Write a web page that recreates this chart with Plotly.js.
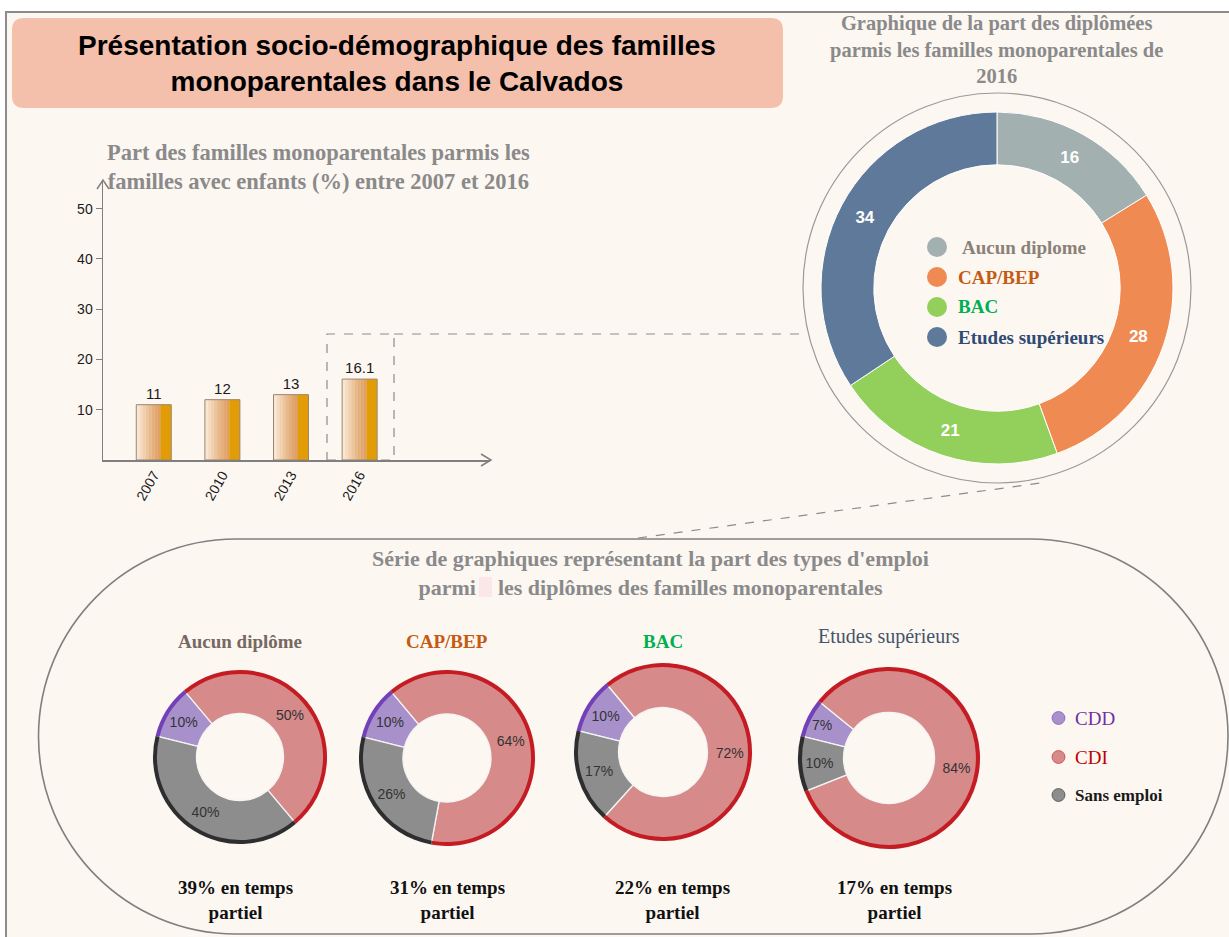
<!DOCTYPE html>
<html><head><meta charset="utf-8">
<script src="https://cdn.plot.ly/plotly-3.0.1.min.js"></script>
<style>html,body{margin:0;padding:0;background:#fff}#chart{width:1229px;height:937px}</style>
</head><body><div id="chart"></div>
<script>
// ---------------- DATA ----------------
const years = ['2007', '2010', '2013', '2016'];
const shareMono = [11, 12, 13, 16.1];

const diplomaLabels = ['Aucun diplome', 'CAP/BEP', 'BAC', 'Etudes supérieurs'];
const diplomaShares = [16, 28, 21, 34];

const employmentTypes = ['CDD', 'CDI', 'Sans emploi'];
const empAucun = [10, 50, 40];
const empCap = [10, 64, 26];
const empBac = [10, 72, 17];
const empSup = [7, 84, 10];
const smallTitles = ['Aucun diplôme', 'CAP/BEP', 'BAC', 'Etudes supérieurs'];
const partTime = [39, 31, 22, 17];

// ---------------- LAYOUT HELPERS ----------------
const W = 1229, H = 937;
const fx = x => x / W;
const fy = y => 1 - y / H;
const pt = (x, y) => fx(x).toFixed(5) + ',' + fy(y).toFixed(5);
const SERIF = 'Liberation Serif';
const SANS = 'Liberation Sans';

const traces = [];
const shapes = [];
const annotations = [];

// page frame
shapes.push({type: 'rect', xref: 'paper', yref: 'paper', layer: 'below',
  x0: fx(6), x1: fx(1240), y0: fy(12), y1: fy(950),
  fillcolor: '#fdf7f2', line: {color: '#8c8c8c', width: 2}});

// title box (rounded)
(function () {
  const x0 = 12, x1 = 783, y0 = 18, y1 = 108, r = 12;
  const d = 'M ' + pt(x0 + r, y0) + ' L ' + pt(x1 - r, y0) + ' Q ' + pt(x1, y0) + ' ' + pt(x1, y0 + r) +
    ' L ' + pt(x1, y1 - r) + ' Q ' + pt(x1, y1) + ' ' + pt(x1 - r, y1) +
    ' L ' + pt(x0 + r, y1) + ' Q ' + pt(x0, y1) + ' ' + pt(x0, y1 - r) +
    ' L ' + pt(x0, y0 + r) + ' Q ' + pt(x0, y0) + ' ' + pt(x0 + r, y0) + ' Z';
  shapes.push({type: 'path', xref: 'paper', yref: 'paper', layer: 'below', path: d,
    fillcolor: '#f4c0ac', line: {width: 0}});
})();
annotations.push({xref: 'paper', yref: 'paper', x: fx(397), y: fy(64), xanchor: 'center', yanchor: 'middle',
  showarrow: false, text: 'Présentation socio-démographique des familles<br>monoparentales dans le Calvados',
  font: {family: SANS, size: 28, weight: 'bold', color: '#000'}});

// stadium around bottom section
(function () {
  const top = 539, bot = 934, cy = (top + bot) / 2, r = (bot - top) / 2;
  const lx = 38.5 + r, rx = 1228 - r, k = 0.5523 * r;
  const d = 'M ' + pt(lx, top) + ' L ' + pt(rx, top) +
    ' C ' + pt(rx + k, top) + ' ' + pt(rx + r, cy - k) + ' ' + pt(rx + r, cy) +
    ' C ' + pt(rx + r, cy + k) + ' ' + pt(rx + k, bot) + ' ' + pt(rx, bot) +
    ' L ' + pt(lx, bot) +
    ' C ' + pt(lx - k, bot) + ' ' + pt(lx - r, cy + k) + ' ' + pt(lx - r, cy) +
    ' C ' + pt(lx - r, cy - k) + ' ' + pt(lx - k, top) + ' ' + pt(lx, top) + ' Z';
  shapes.push({type: 'path', xref: 'paper', yref: 'paper', layer: 'below', path: d,
    fillcolor: 'rgba(0,0,0,0)', line: {color: '#808080', width: 1.6}});
})();

// dashed connectors
const dashLine = {color: '#8c8c8c', width: 1.2, dash: 'dash'};
shapes.push({type: 'rect', xref: 'paper', yref: 'paper', layer: 'below',
  x0: fx(327), x1: fx(394), y0: fy(460), y1: fy(334), line: dashLine});
shapes.push({type: 'line', xref: 'paper', yref: 'paper', layer: 'below',
  x0: fx(394), x1: fx(805), y0: fy(334), y1: fy(334), line: dashLine});
shapes.push({type: 'line', xref: 'paper', yref: 'paper', layer: 'below',
  x0: fx(638), x1: fx(1048), y0: fy(538), y1: fy(482), line: dashLine});

// axis arrowheads
shapes.push({type: 'path', xref: 'paper', yref: 'paper', path: 'M ' + pt(97, 189) + ' L ' + pt(103, 180) + ' L ' + pt(109, 189),
  line: {color: '#7f7f7f', width: 1.5}});
shapes.push({type: 'path', xref: 'paper', yref: 'paper', path: 'M ' + pt(481, 454) + ' L ' + pt(491, 460) + ' L ' + pt(481, 466),
  line: {color: '#7f7f7f', width: 1.5}});

// ---------------- BAR CHART ----------------
const barW = 0.51, half = barW / 2;
const gradCols = ['#f8e6d3', '#f4dbc1', '#f0d0ae', '#ecc59c', '#e8ba8b', '#e5b07c', '#e2a76f', '#dfa065'];
const gradW = 0.355 / gradCols.length;
let off = -half;
gradCols.forEach(c => {
  traces.push({type: 'bar', x: years, y: shareMono, width: gradW + 0.004, offset: off,
    marker: {color: c, line: {width: 0}}, hoverinfo: 'skip', showlegend: false, xaxis: 'x', yaxis: 'y'});
  off += gradW;
});
traces.push({type: 'bar', x: years, y: shareMono, width: half - off, offset: off,
  marker: {color: '#e29c05', line: {width: 0}}, hoverinfo: 'skip', showlegend: false, xaxis: 'x', yaxis: 'y'});
traces.push({type: 'bar', x: years, y: shareMono, width: barW, offset: -half,
  marker: {color: 'rgba(0,0,0,0)', line: {color: '#9a8670', width: 1}},
  text: shareMono.map(String), textposition: 'outside', cliponaxis: false,
  textfont: {family: SANS, size: 15, color: '#1a1a1a'},
  showlegend: false, xaxis: 'x', yaxis: 'y'});

annotations.push({xref: 'paper', yref: 'paper', x: fx(318), y: fy(167), xanchor: 'center', yanchor: 'middle',
  showarrow: false, text: 'Part des familles monoparentales parmis les<br>familles avec enfants (%) entre 2007 et 2016',
  font: {family: SERIF, size: 22.5, weight: 'bold', color: '#8a8a8a'}});

// ---------------- BIG DONUT ----------------
const bigColors = ['#a3b0b0', '#ef8b52', '#93cf5b', '#5e7999'];
traces.push({type: 'pie', values: diplomaShares, labels: diplomaLabels, hole: 0.70,
  domain: {x: [fx(821), fx(1173)], y: [fy(464), fy(112)]},
  direction: 'clockwise', sort: false, rotation: 0,
  marker: {colors: bigColors, line: {color: '#ffffff', width: 1}},
  textinfo: 'value', textposition: 'inside', insidetextorientation: 'horizontal',
  textfont: {family: SANS, size: 17, weight: 'bold', color: '#ffffff'},
  showlegend: false, hoverinfo: 'label+value'});
shapes.push({type: 'circle', xref: 'paper', yref: 'paper', layer: 'below',
  x0: fx(803), x1: fx(1191), y0: fy(483), y1: fy(93), line: {color: '#9a9a9a', width: 1.2}});
annotations.push({xref: 'paper', yref: 'paper', x: fx(996), y: fy(49), xanchor: 'center', yanchor: 'middle',
  showarrow: false, text: 'Graphique de la part des diplômées<br>parmis les familles monoparentales de<br>2016',
  font: {family: SERIF, size: 20.5, weight: 'bold', color: '#8a8a8a'}});

// legend inside big donut
const bigLegendText = ['#8b8179', '#c55a11', '#00b050', '#2f4a73'];
const bigLegY = [247, 277, 307, 337];
diplomaLabels.forEach((lab, i) => {
  shapes.push({type: 'circle', xref: 'paper', yref: 'paper',
    x0: fx(927), x1: fx(947), y0: fy(bigLegY[i] + 10), y1: fy(bigLegY[i] - 10),
    fillcolor: bigColors[i], line: {width: 0}});
  annotations.push({xref: 'paper', yref: 'paper', x: fx(i === 0 ? 960 : 956), y: fy(bigLegY[i]),
    xanchor: 'left', yanchor: 'middle', showarrow: false, text: lab,
    font: {family: SERIF, size: 19, weight: 'bold', color: bigLegendText[i]}});
});

// ---------------- SMALL DONUTS ----------------
const empSeries = [empAucun, empCap, empBac, empSup];
const empColors = ['#a890cb', '#d78a8a', '#8d8d8d'];
const rimColors = ['#7440b8', '#c41c22', '#2e2e2e'];
const cxs = [240, 447, 663, 889], cys = [757, 758, 752, 758], rs = [87, 88, 89, 91];
const titleCols = ['#76695f', '#c55a11', '#00b050', '#44546a'];
const titleY = [641, 641, 641, 636];
const ptX = [236, 447, 672, 894];
empSeries.forEach((vals, i) => {
  const dom = {x: [fx(cxs[i] - rs[i]), fx(cxs[i] + rs[i])], y: [fy(cys[i] + rs[i]), fy(cys[i] - rs[i])]};
  traces.push({type: 'pie', values: vals, labels: employmentTypes, hole: 0.5, domain: dom,
    direction: 'clockwise', sort: false, rotation: -76,
    marker: {colors: empColors, line: {color: '#f4f4f4', width: 1.3}},
    texttemplate: '%{value}%', textposition: 'inside', insidetextorientation: 'horizontal',
    textfont: {family: SANS, size: 14, color: '#333333'},
    showlegend: false, hoverinfo: 'label+value'});
  traces.push({type: 'pie', values: vals, labels: employmentTypes, hole: 0.955, domain: dom,
    direction: 'clockwise', sort: false, rotation: -76,
    marker: {colors: rimColors, line: {width: 0}}, textinfo: 'none',
    showlegend: false, hoverinfo: 'skip'});
  annotations.push({xref: 'paper', yref: 'paper', x: fx(cxs[i]), y: fy(titleY[i]), xanchor: 'center', yanchor: 'middle',
    showarrow: false, text: smallTitles[i],
    font: {family: SERIF, size: i === 3 ? 20 : 19, weight: i === 3 ? 'normal' : 'bold', color: titleCols[i]}});
  annotations.push({xref: 'paper', yref: 'paper', x: fx(ptX[i]), y: fy(900), xanchor: 'center', yanchor: 'middle',
    showarrow: false, text: partTime[i] + '% en temps<br>partiel',
    font: {family: SERIF, size: 19, weight: 'bold', color: '#111'}});
});
// small pink highlight between "parmi" and "les"
shapes.push({type: 'rect', xref: 'paper', yref: 'paper', layer: 'below',
  x0: fx(479), x1: fx(492), y0: fy(597), y1: fy(577), fillcolor: '#fbe6e8', line: {width: 0}});
annotations.push({xref: 'paper', yref: 'paper', x: fx(651), y: fy(573), xanchor: 'center', yanchor: 'middle',
  showarrow: false, text: 'Série de graphiques représentant la part des types d\'emploi<br>parmi    les diplômes des familles monoparentales',
  font: {family: SERIF, size: 22, weight: 'bold', color: '#8a8a8a'}});

// legend for small donuts
const legCols = ['#7030a0', '#c00000', '#1a1a1a'];
const legY = [718, 757, 795];
employmentTypes.forEach((lab, i) => {
  shapes.push({type: 'circle', xref: 'paper', yref: 'paper',
    x0: fx(1052), x1: fx(1065), y0: fy(legY[i] + 6.5), y1: fy(legY[i] - 6.5),
    fillcolor: empColors[i], line: {color: rimColors[i], width: 0.6}});
  annotations.push({xref: 'paper', yref: 'paper', x: fx(1073), y: fy(legY[i]), xanchor: 'left', yanchor: 'middle',
    showarrow: false, text: lab,
    font: {family: SERIF, size: i === 2 ? 17 : 19, weight: i === 2 ? 'bold' : 'normal', color: legCols[i]}});
});

// ---------------- LAYOUT ----------------
const layout = {
  width: W, height: H, margin: {l: 0, r: 0, t: 0, b: 0},
  paper_bgcolor: '#ffffff', plot_bgcolor: 'rgba(0,0,0,0)',
  barmode: 'overlay', showlegend: false,
  xaxis: {domain: [fx(103), fx(490)], range: [-0.74, 4.9], type: 'category',
    showline: true, linecolor: '#7f7f7f', linewidth: 1.5, ticks: '', showgrid: false, zeroline: false,
    tickangle: -60, tickfont: {family: SANS, size: 14, color: '#1a1a1a'}, fixedrange: true},
  yaxis: {domain: [fy(460), fy(180)], range: [0, 55.7],
    showline: true, linecolor: '#7f7f7f', linewidth: 1.5, ticks: 'outside', ticklen: 6, tickcolor: '#7f7f7f',
    tickvals: [10, 20, 30, 40, 50], showgrid: false, zeroline: false,
    tickfont: {family: SANS, size: 14, color: '#1a1a1a'}, fixedrange: true},
  shapes: shapes, annotations: annotations
};
Plotly.newPlot('chart', traces, layout, {displayModeBar: false, staticPlot: true});
</script></body></html>
